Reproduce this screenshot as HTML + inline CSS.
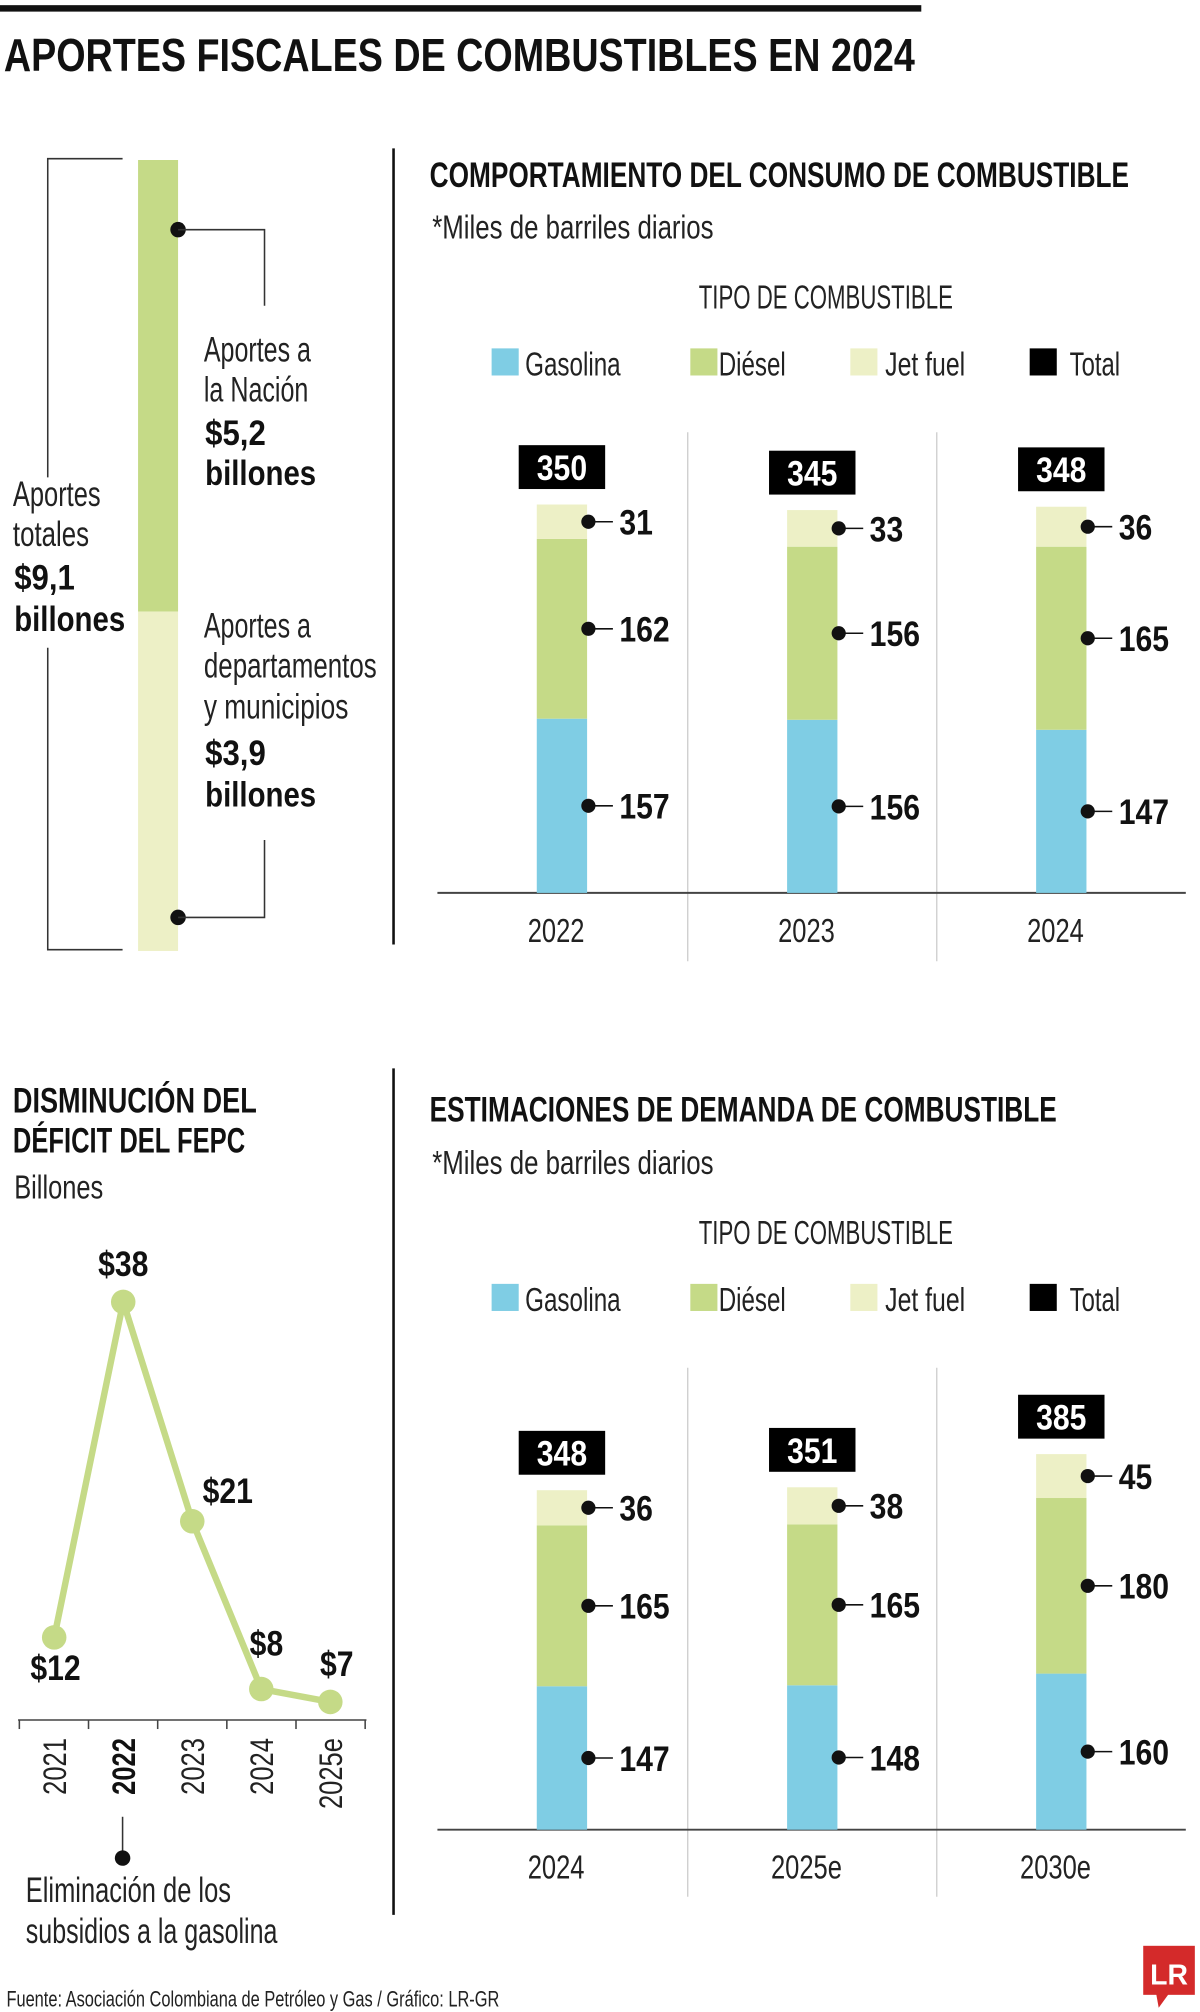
<!DOCTYPE html>
<html><head><meta charset="utf-8"><style>
html,body{margin:0;padding:0;background:#fff;}
svg{display:block;}
text{font-family:"Liberation Sans",sans-serif;}
.l{font-weight:400;fill:#222;}
.b{font-weight:700;fill:#111;}
</style></head><body>
<svg id="root" width="1200" height="2012" viewBox="0 0 930 1559.3" xmlns="http://www.w3.org/2000/svg">
<rect x="0" y="0" width="930" height="1560" fill="#fff"/>
<rect x="0" y="4" width="714" height="5" fill="#111"/>
<text class="b" x="3" y="55" font-size="36" textLength="706" lengthAdjust="spacingAndGlyphs">APORTES FISCALES DE COMBUSTIBLES EN 2024</text>

<g>
<rect x="107" y="124" width="31" height="350" fill="#c5da87"/>
<rect x="107" y="474" width="31" height="263" fill="#edf0c6"/>
<polyline points="95,123 37,123 37,370" fill="none" stroke="#333" stroke-width="1.2"/>
<polyline points="37,502 37,736 95,736" fill="none" stroke="#333" stroke-width="1.2"/>
<circle cx="138" cy="178" r="6" fill="#111"/>
<polyline points="138,178 205,178 205,237" fill="none" stroke="#333" stroke-width="1.2"/>
<circle cx="138" cy="711" r="6" fill="#111"/>
<polyline points="138,711 205,711 205,651" fill="none" stroke="#333" stroke-width="1.2"/>
<text class="l" x="158" y="280" font-size="27" textLength="83" lengthAdjust="spacingAndGlyphs">Aportes a</text>
<text class="l" x="158" y="311" font-size="27" textLength="81" lengthAdjust="spacingAndGlyphs">la Nación</text>
<text class="b" x="159" y="345" font-size="27" textLength="47" lengthAdjust="spacingAndGlyphs">$5,2</text>
<text class="b" x="159" y="376" font-size="27" textLength="86" lengthAdjust="spacingAndGlyphs">billones</text>
<text class="l" x="158" y="494" font-size="27" textLength="83" lengthAdjust="spacingAndGlyphs">Aportes a</text>
<text class="l" x="158" y="525" font-size="27" textLength="134" lengthAdjust="spacingAndGlyphs">departamentos</text>
<text class="l" x="158" y="557" font-size="27" textLength="112" lengthAdjust="spacingAndGlyphs">y municipios</text>
<text class="b" x="159" y="593" font-size="27" textLength="47" lengthAdjust="spacingAndGlyphs">$3,9</text>
<text class="b" x="159" y="625" font-size="27" textLength="86" lengthAdjust="spacingAndGlyphs">billones</text>
<text class="l" x="10" y="392" font-size="27" textLength="68" lengthAdjust="spacingAndGlyphs">Aportes</text>
<text class="l" x="10" y="423" font-size="27" textLength="59" lengthAdjust="spacingAndGlyphs">totales</text>
<text class="b" x="11" y="457" font-size="27" textLength="47" lengthAdjust="spacingAndGlyphs">$9,1</text>
<text class="b" x="11" y="489" font-size="27" textLength="86" lengthAdjust="spacingAndGlyphs">billones</text>
</g>

<line x1="305" y1="115" x2="305" y2="732" stroke="#111" stroke-width="2"/>
<line x1="305" y1="828" x2="305" y2="1484" stroke="#111" stroke-width="2"/>

<text class="b" x="333" y="145" font-size="27" textLength="542" lengthAdjust="spacingAndGlyphs">COMPORTAMIENTO DEL CONSUMO DE COMBUSTIBLE</text>
<text class="l" x="335" y="185" font-size="26" textLength="218" lengthAdjust="spacingAndGlyphs">*Miles de barriles diarios</text>
<g id="c1"></g>

<text class="b" x="333" y="869" font-size="27" textLength="486" lengthAdjust="spacingAndGlyphs">ESTIMACIONES DE DEMANDA DE COMBUSTIBLE</text>
<text class="l" x="335" y="910" font-size="26" textLength="218" lengthAdjust="spacingAndGlyphs">*Miles de barriles diarios</text>
<g id="c2"></g>

<text class="b" x="10" y="862" font-size="27" textLength="189" lengthAdjust="spacingAndGlyphs">DISMINUCIÓN DEL</text>
<text class="b" x="10" y="893" font-size="27" textLength="180" lengthAdjust="spacingAndGlyphs">DÉFICIT DEL FEPC</text>
<text class="l" x="11" y="929" font-size="26" textLength="69" lengthAdjust="spacingAndGlyphs">Billones</text>
<g id="lc"></g>
<line x1="95" y1="1408" x2="95" y2="1435" stroke="#333" stroke-width="1.2"/>
<circle cx="95" cy="1440" r="6" fill="#111"/>
<text class="l" x="20" y="1474" font-size="27" textLength="159" lengthAdjust="spacingAndGlyphs">Eliminación de los</text>
<text class="l" x="20" y="1506" font-size="27" textLength="195" lengthAdjust="spacingAndGlyphs">subsidios a la gasolina</text>

<text class="l" x="5" y="1555" font-size="17" textLength="382" lengthAdjust="spacingAndGlyphs">Fuente: Asociación Colombiana de Petróleo y Gas / Gráfico: LR-GR</text>
<g>
<rect x="886" y="1508" width="40" height="38" fill="#d42a2a"/>
<polygon points="896,1545 906,1545 898,1556" fill="#d42a2a"/>
<text x="906" y="1538" font-family="Liberation Serif,serif" font-size="22" font-weight="700" fill="#fff" text-anchor="middle">LR</text>
</g>
</svg>
<script>
const NS='http://www.w3.org/2000/svg';
const cats1=['2022','2023','2024'];
const gas1=[157,156,147];
const die1=[162,156,165];
const jet1=[31,33,36];
const tot1=[350,345,348];
const cats2=['2024','2025e','2030e'];
const gas2=[147,148,160];
const die2=[165,165,180];
const jet2=[36,38,45];
const tot2=[348,351,385];
const years=['2021','2022','2023','2024','2025e'];
const deficit=[12,38,21,8,7];
const defLabels=['$12','$38','$21','$8','$7'];

function mk(tag,attrs,parent){const e=document.createElementNS(NS,tag);for(const k in attrs)e.setAttribute(k,attrs[k]);parent.appendChild(e);return e;}

function barChart(id,cats,gas,die,jet,tot,dy,axisY,scale){
  const g=document.getElementById(id);
  let e;
  e=mk('text',{x:640,y:239+dy,'font-size':26,'text-anchor':'middle',textLength:197,lengthAdjust:'spacingAndGlyphs',class:'l'},g);e.textContent='TIPO DE COMBUSTIBLE';
  
  
  const leg=[['Gasolina','#7fcde4',381,407,74],['Diésel','#c5da87',535,557,52],['Jet fuel','#edf0c6',659,686,62],['Total','#000',798,829,39]];
  leg.forEach(l=>{
    const s=mk('rect',{x:l[2],y:270+dy,width:21,height:21,fill:l[1]},g);
    
    
    const t=mk('text',{x:l[3],y:291+dy,'font-size':26,class:'l',textLength:l[4],lengthAdjust:'spacingAndGlyphs'},g);t.textContent=l[0];
    
    
  });
  [533,726].forEach(x=>{mk('line',{x1:x,y1:335+dy,x2:x,y2:745+dy,stroke:'#ccc','stroke-width':1},g);});
  e=mk('line',{x1:339,y1:axisY,x2:919,y2:axisY,stroke:'#444','stroke-width':1.5},g);
  
  
  const xs=[416,610,803];
  const yv=v=>v*scale;
  cats.forEach((c,i)=>{
    const x=xs[i];
    const segs=[[gas[i],'#7fcde4','gasolina'],[die[i],'#c5da87','diesel'],[jet[i],'#edf0c6','jet-fuel']];
    let base=axisY;
    segs.forEach(s=>{
      const h=yv(s[0]);const top=base-h;
      const r=mk('rect',{x:x,y:top,width:39,height:h,fill:s[1]},g);
      
      
      const my=top+h/2;
      mk('circle',{cx:x+40,cy:my,r:5.5,fill:'#111'},g);
      mk('line',{x1:x+40,y1:my,x2:x+59,y2:my,stroke:'#111','stroke-width':1.2},g);
      const lbl=String(s[0]);
      const t=mk('text',{x:x+64,y:my+10,'font-size':27,class:'b',textLength:lbl.length*13,lengthAdjust:'spacingAndGlyphs'},g);t.textContent=lbl;
      
      
      base=top;
    });
    const bTop=axisY-yv(tot[i]);
    const bx=mk('rect',{x:x-14,y:bTop-46,width:67,height:34,fill:'#000'},g);
    
    
    const tt=mk('text',{x:x+19.5,y:bTop-19,'font-size':27,style:'fill:#fff;font-weight:700','text-anchor':'middle',textLength:String(tot[i]).length*13,lengthAdjust:'spacingAndGlyphs'},g);
    tt.textContent=tot[i];
    
    
    const yl=mk('text',{x:x+15,y:axisY+38,'font-size':26,class:'l','text-anchor':'middle',textLength:c.length*11,lengthAdjust:'spacingAndGlyphs'},g);yl.textContent=c;
    
    
  });
}
barChart('c1',cats1,gas1,die1,jet1,tot1,0,692,0.86);
barChart('c2',cats2,gas2,die2,jet2,tot2,725,1418,0.756);

(function(){
  const g=document.getElementById('lc');
  const px=i=>42+i*53.5;
  const py=v=>1389-10*v;
  let e=mk('line',{x1:14,y1:1333,x2:284,y2:1333,stroke:'#444','stroke-width':1.2},g);
  
  
  for(let i=0;i<=years.length;i++){const tx=15+i*53.6;mk('line',{x1:tx,y1:1333,x2:tx,y2:1340,stroke:'#444','stroke-width':1.2},g);}
  const pts=deficit.map((v,i)=>px(i)+','+py(v)).join(' ');
  e=mk('polyline',{points:pts,fill:'none',stroke:'#c5da87','stroke-width':5,'stroke-linejoin':'round'},g);
  
  
  const off=[[1,33,'middle'],[0,-20,'middle'],[8,-14,'start'],[-9,-26,'start'],[-8,-20,'start']];
  deficit.forEach((v,i)=>{
    const c=mk('circle',{cx:px(i),cy:py(v),r:9.5,fill:'#c5da87'},g);
    
    
    const t=mk('text',{x:px(i)+off[i][0],y:py(v)+off[i][1],'font-size':27,class:'b','text-anchor':off[i][2],textLength:defLabels[i].length*13,lengthAdjust:'spacingAndGlyphs'},g);
    t.textContent=defLabels[i];
    
    
    const yl=mk('text',{x:0,y:0,'font-size':25,class:i===1?'b':'l','text-anchor':'end',transform:'translate('+(px(i)+9)+',1347) rotate(-90)',textLength:years[i].length*11,lengthAdjust:'spacingAndGlyphs'},g);
    yl.textContent=years[i];
    
    
  });
})();
</script>
</body></html>
